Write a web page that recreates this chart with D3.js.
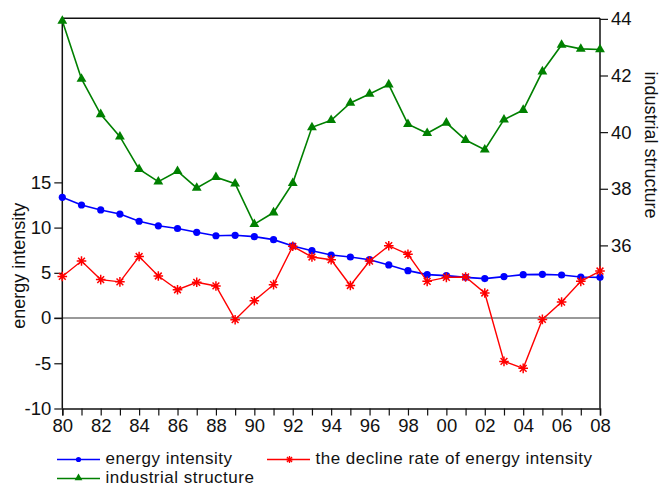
<!DOCTYPE html>
<html>
<head>
<meta charset="utf-8">
<script src="https://cdn.jsdelivr.net/npm/d3@7"></script>
<style>
body { margin: 0; background: #fff; }
text { font-family: "Liberation Sans", Arial, sans-serif; fill: #111; }
</style>
</head>
<body>
<div id="chart"></div>
<script>
var W = 661, H = 487;

// data
var years = d3.range(1980, 2009);
var energyIntensity = [13.35, 12.5, 11.95, 11.5, 10.7, 10.2, 9.9, 9.48, 9.1, 9.15,
	9.0, 8.67, 7.97, 7.45, 6.97, 6.75, 6.45, 5.87, 5.24, 4.8,
	4.69, 4.5, 4.36, 4.58, 4.8, 4.83, 4.76, 4.54, 4.5];
var declineRate = [4.6, 6.3, 4.25, 4.0, 6.8, 4.65, 3.13, 3.95, 3.55, -0.18,
	1.92, 3.69, 7.93, 6.75, 6.45, 3.6, 6.3, 8.0, 7.05, 4.06,
	4.5, 4.54, 2.77, -4.79, -5.56, -0.15, 1.77, 4.06, 5.2];
var industrialStructure = [43.93, 41.88, 40.63, 39.84, 38.69, 38.25, 38.62, 38.03, 38.41, 38.18,
	36.75, 37.16, 38.2, 40.17, 40.42, 41.03, 41.35, 41.68, 40.28, 39.96,
	40.33, 39.72, 39.38, 40.44, 40.78, 42.14, 43.08, 42.94, 42.92];
var leftTicks = [-10, -5, 0, 5, 10, 15];
var rightTicks = [36, 38, 40, 42, 44];

var margin = {top: 18.3, left: 62.3, right: 61, bottom: 78.5};
var w = W - margin.left - margin.right;
var h = H - margin.top - margin.bottom;

var svg = d3.select("#chart")
	.append("svg")
	.attr("width", W)
	.attr("height", H);

var g = svg.append("g").attr("transform", "translate(" + margin.left + "," + margin.top + ")");

var x = d3.scaleLinear().domain([1980, 2008]).range([0, w]);
var yL = d3.scaleLinear().domain([-10, 33.14]).range([h, 0]);
var yR = d3.scaleLinear().domain([30.24, 44.02]).range([h, 0]);

// zero line
g.append("line")
	.attr("x1", -8).attr("x2", w)
	.attr("y1", yL(0)).attr("y2", yL(0))
	.style("stroke", "#777")
	.style("stroke-width", 1.5);

// top frame
g.append("line")
	.attr("x1", 0).attr("x2", w)
	.attr("y1", 0).attr("y2", 0)
	.style("stroke", "#111")
	.style("stroke-width", 1.5);

// axes
var xAxis = g.append("g")
	.attr("transform", "translate(0," + h + ")")
	.call(d3.axisBottom(x).tickValues(years).tickSize(7).tickPadding(3)
		.tickFormat(function (d) { return d % 2 == 0 ? d3.format("02d")(d % 100) : ""; }));

var leftAxis = g.append("g")
	.call(d3.axisLeft(yL).tickValues(leftTicks).tickSize(8).tickPadding(3)
		.tickFormat(function (d) { return String(d); }));

var rightAxis = g.append("g")
	.attr("transform", "translate(" + w + ",0)")
	.call(d3.axisRight(yR).tickValues(rightTicks).tickSize(8).tickPadding(3));

[xAxis, leftAxis, rightAxis].forEach(function (a) {
	a.select(".domain").style("stroke", "#111").style("stroke-width", 1.5);
	a.selectAll(".tick line").style("stroke", "#111").style("stroke-width", 1.2);
	a.selectAll("text").style("font-size", "18.5px").style("font-family", "Liberation Sans, Arial, sans-serif").style("fill", "#111");
});
leftAxis.select(".domain").attr("d", "M0," + h + "V0");
rightAxis.select(".domain").attr("d", "M0," + h + "V0");

// axis titles
svg.append("text")
	.attr("transform", "translate(25,265.7) rotate(-90)")
	.attr("text-anchor", "middle")
	.style("font-size", "18px")
	.text("energy intensity");

svg.append("text")
	.attr("transform", "translate(645,145) rotate(90)")
	.attr("text-anchor", "middle")
	.style("font-size", "18px")
	.text("industrial structure");

// star marker path
function star(r) {
	var k = r * Math.SQRT1_2;
	return "M0," + (-r) + "V" + r + "M" + (-r) + ",0H" + r +
		"M" + (-k) + "," + (-k) + "L" + k + "," + k +
		"M" + (-k) + "," + k + "L" + k + "," + (-k);
}

var tri = d3.symbol().type(d3.symbolTriangle);

// green: industrial structure
var lineR = d3.line()
	.x(function (d, i) { return x(years[i]); })
	.y(function (d) { return yR(d); });

g.append("path")
	.datum(industrialStructure)
	.attr("d", lineR)
	.style("fill", "none")
	.style("stroke", "#008000")
	.style("stroke-width", 1.6);

g.selectAll(".tri")
	.data(industrialStructure)
	.enter()
	.append("path")
	.classed("tri", true)
	.attr("transform", function (d, i) { return "translate(" + x(years[i]) + "," + yR(d) + ")"; })
	.attr("d", tri.size(42))
	.style("fill", "#008000");

// blue: energy intensity
var lineL = d3.line()
	.x(function (d, i) { return x(years[i]); })
	.y(function (d) { return yL(d); });

g.append("path")
	.datum(energyIntensity)
	.attr("d", lineL)
	.style("fill", "none")
	.style("stroke", "#0000ff")
	.style("stroke-width", 1.6);

g.selectAll(".dot")
	.data(energyIntensity)
	.enter()
	.append("circle")
	.classed("dot", true)
	.attr("cx", function (d, i) { return x(years[i]); })
	.attr("cy", function (d) { return yL(d); })
	.attr("r", 3.6)
	.style("fill", "#0000ff");

// red: decline rate
g.append("path")
	.datum(declineRate)
	.attr("d", lineL)
	.style("fill", "none")
	.style("stroke", "#ff0000")
	.style("stroke-width", 1.4);

g.selectAll(".star")
	.data(declineRate)
	.enter()
	.append("path")
	.classed("star", true)
	.attr("transform", function (d, i) { return "translate(" + x(years[i]) + "," + yL(d) + ")"; })
	.attr("d", star(4.8))
	.style("stroke", "#ff0000")
	.style("stroke-width", 1.5);

// legend
var legend = [
	{name: "energy intensity", color: "#0000ff", mark: "dot", x: 57, y: 459.5},
	{name: "the decline rate of energy intensity", color: "#ff0000", mark: "star", x: 267, y: 459.5},
	{name: "industrial structure", color: "#008000", mark: "tri", x: 57, y: 478.5}
];

var lg = svg.selectAll(".lg")
	.data(legend)
	.enter()
	.append("g")
	.attr("transform", function (d) { return "translate(" + d.x + "," + d.y + ")"; });

lg.append("line")
	.attr("x1", 0).attr("x2", 43)
	.attr("y1", 0).attr("y2", 0)
	.style("stroke", function (d) { return d.color; })
	.style("stroke-width", 1.5);

lg.each(function (d) {
	var s = d3.select(this);
	if (d.mark == "dot") {
		s.append("circle").attr("cx", 21.5).attr("r", 2.6).style("fill", d.color);
	} else if (d.mark == "star") {
		s.append("path").attr("transform", "translate(22.5,0)").attr("d", star(3.6))
			.style("stroke", d.color).style("stroke-width", 1.3);
	} else {
		s.append("path").attr("transform", "translate(21.5,-0.5)").attr("d", tri.size(26)).style("fill", d.color);
	}
});

lg.append("text")
	.attr("x", 48.5)
	.attr("y", 4.5)
	.style("font-size", "17px")
	.style("letter-spacing", "0.5px")
	.text(function (d) { return d.name; });
</script>
</body>
</html>
